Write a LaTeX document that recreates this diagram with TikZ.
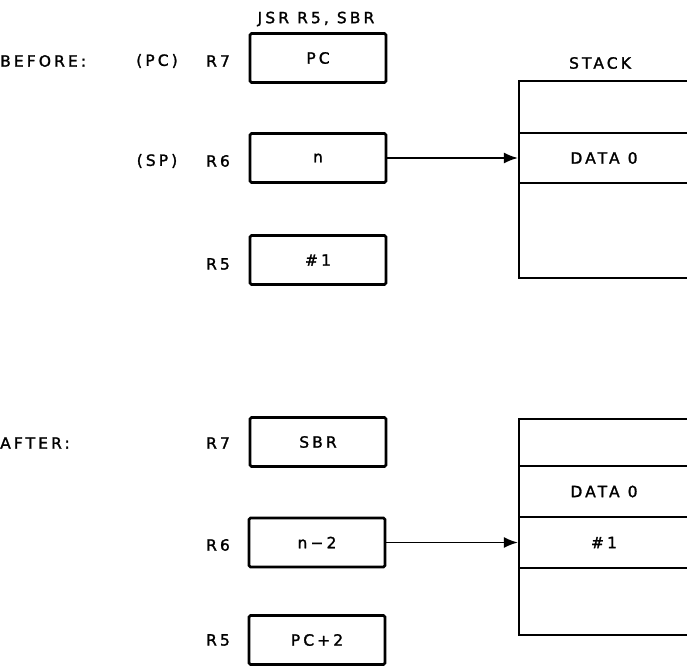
\documentclass[tikz,border=0pt]{standalone}
\usepackage{fontspec}
\setmainfont{DejaVu Sans}[LetterSpace=20, FakeBold=1.5]
\usetikzlibrary{arrows.meta, positioning}

\begin{document}
\begin{tikzpicture}[x=1pt, y=-1pt,
  lbl/.style={font=\fontsize{15.5}{17}\selectfont, inner sep=0pt},
  regbox/.style={draw, line width=2.8pt, rounded corners=1.5pt, minimum width=136pt, minimum height=49pt, inner sep=0pt, outer sep=0pt, lbl},
  cell/.style={draw, line width=2.2pt, minimum width=170pt, anchor=north west, inner sep=0pt, outer sep=0pt, lbl},
  ptr/.style={line width=1.7pt, -{Latex[length=14pt, width=11pt]}, shorten <=1.4pt, shorten >=1.1pt}
]
  \useasboundingbox (0,0) rectangle (687,669);

  % before
  \node[lbl] (jsr) at (316,19) {JSR R5, SBR};
  \node[lbl, anchor=west] (before) at (0,61) {BEFORE:};
  \node[lbl] (pcnote) at (157,61) {(PC)};
  \node[lbl] (rsevena) at (218,61) {R7};
  \node[regbox] (pc) at (318,58) {PC};
  \node[lbl] (spnote) at (157,161) {(SP)};
  \node[lbl] (rsixa) at (218,161) {R6};
  \node[regbox] (n) at (318,158) {n};
  \node[lbl] (rfivea) at (218,264) {R5};
  \node[regbox] (one) at (318,260) {\#1};

  \node[lbl] (stack) at (600,63) {STACK};
  \node[cell, minimum height=52pt] (sa1) at (519,81) {};
  \node[cell, minimum height=50pt] (sa2) at (519,133) {DATA 0};
  \node[cell, minimum height=95pt] (sa3) at (519,183) {};
  \draw[ptr] (n.east) -- (sa2.west);

  % after
  \node[lbl, anchor=west] (after) at (0,443) {AFTER:};
  \node[lbl] (rsevenb) at (218,443) {R7};
  \node[regbox] (sbr) at (318,442) {SBR};
  \node[lbl] (rsixb) at (218,545) {R6};
  \node[regbox] (nmin) at (317,542.5) {n−2};
  \node[lbl] (rfiveb) at (218,640) {R5};
  \node[regbox] (pcplus) at (317,640) {PC+2};

  \node[cell, minimum height=47pt] (sb1) at (519,419) {};
  \node[cell, minimum height=51pt] (sb2) at (519,466) {DATA 0};
  \node[cell, minimum height=51pt] (sb3) at (519,517) {\#1};
  \node[cell, minimum height=67pt] (sb4) at (519,568) {};
  \draw[ptr] (nmin.east) -- (sb3.west);
\end{tikzpicture}
\end{document}
